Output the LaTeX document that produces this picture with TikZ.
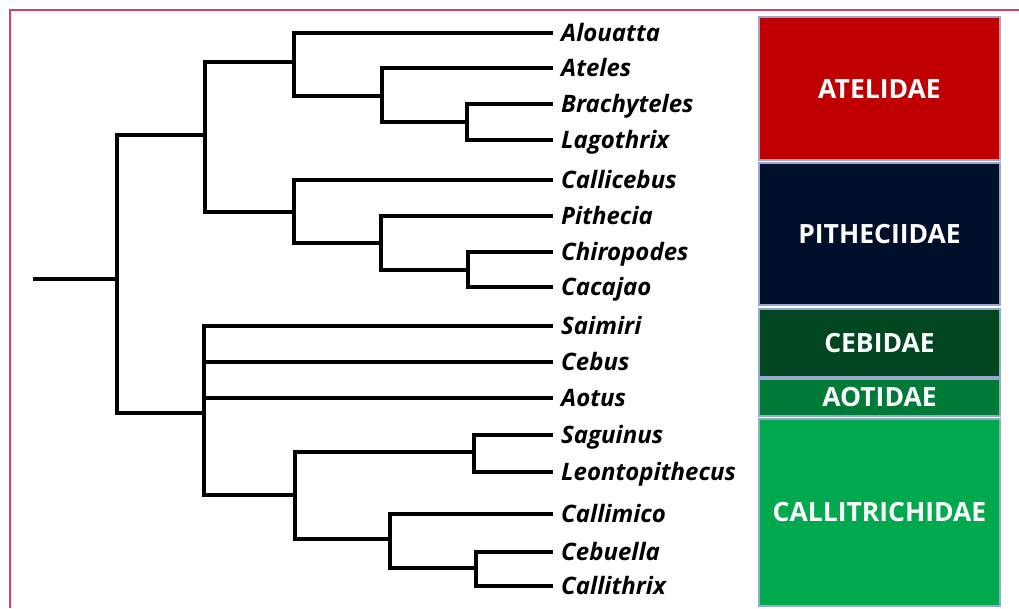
\documentclass[tikz,border=0pt]{standalone}
\usepackage{fontspec}
\setmainfont{Open Sans}
\begin{document}
\begin{tikzpicture}[x=1pt,y=-1pt,
  branch/.style={line width=3.8pt,line cap=rect,line join=miter},
  taxon/.style={anchor=base west,inner sep=0pt,yshift=-8.5pt,
    font=\fontsize{24}{27}\selectfont\bfseries\itshape},
  family/.style={draw=framecol,line width=1.4pt,minimum width=241pt,
    text=white,font=\fontsize{26.5}{30}\selectfont\bfseries,inner sep=0pt},
]
\definecolor{framecol}{RGB}{150,168,205}
\definecolor{bordercol}{RGB}{214,60,122}
\definecolor{ateli}{RGB}{192,0,0}
\definecolor{pithe}{RGB}{0,16,42}
\definecolor{cebi}{RGB}{0,70,32}
\definecolor{aoti}{RGB}{0,122,55}
\definecolor{calli}{RGB}{0,168,78}

\useasboundingbox (0,0) rectangle (1019,608);
\fill[white] (0,0) rectangle (1019,608);
\draw[bordercol,line width=2pt] (1019,10) -- (10,10) -- (10,608);

% internal nodes of the tree
\coordinate (r0) at (35,279);
\coordinate (r)  at (117,279);
\coordinate (A)  at (205,135);
\coordinate (at1) at (294,62);
\coordinate (at2) at (382,96);
\coordinate (at3) at (467,122);
\coordinate (pi1) at (294,212);
\coordinate (pi2) at (381,243);
\coordinate (pi3) at (468,270);
\coordinate (B)  at (204,413);
\coordinate (ca1) at (295,495);
\coordinate (ca2) at (474,452);
\coordinate (ca3) at (390,539);
\coordinate (ca4) at (476,568);

% tips of the tree
\foreach \name/\yy in {alo/33,ate/68,bra/104,lag/140,clb/180,pit/216,chi/252,cac/287,
  sai/326,ceb/362,aot/398,sag/435,leo/472,clm/514,cbl/552,clt/586}
  {\coordinate (\name) at (551,\yy);}

% genus labels
\node[taxon] (talo) at (561,33)  {Alouatta};
\node[taxon] (tate) at (561,68)  {Ateles};
\node[taxon] (tbra) at (561,104) {Brachyteles};
\node[taxon] (tlag) at (561,140) {Lagothrix};
\node[taxon] (tclb) at (561,180) {Callicebus};
\node[taxon] (tpit) at (561,216) {Pithecia};
\node[taxon] (tchi) at (561,252) {Chiropodes};
\node[taxon] (tcac) at (561,287) {Cacajao};
\node[taxon] (tsai) at (561,326) {Saimiri};
\node[taxon] (tceb) at (561,362) {Cebus};
\node[taxon] (taot) at (561,398) {Aotus};
\node[taxon] (tsag) at (561,435) {Saguinus};
\node[taxon] (tleo) at (561,472) {Leontopithecus};
\node[taxon] (tclm) at (561,514) {Callimico};
\node[taxon] (tcbl) at (561,552) {Cebuella};
\node[taxon] (tclt) at (561,586) {Callithrix};

% branches
\draw[branch] (r0) -- (r);
\draw[branch] (r) |- (A);
\draw[branch] (r) |- (B);
\draw[branch] (A) |- (at1);
\draw[branch] (A) |- (pi1);
\draw[branch] (at1) |- (alo);
\draw[branch] (at1) |- (at2);
\draw[branch] (at2) |- (ate);
\draw[branch] (at2) |- (at3);
\draw[branch] (at3) |- (bra);
\draw[branch] (at3) |- (lag);
\draw[branch] (pi1) |- (clb);
\draw[branch] (pi1) |- (pi2);
\draw[branch] (pi2) |- (pit);
\draw[branch] (pi2) |- (pi3);
\draw[branch] (pi3) |- (chi);
\draw[branch] (pi3) |- (cac);
\draw[branch] (B) |- (sai);
\draw[branch] (B) |- (ceb);
\draw[branch] (B) |- (aot);
\draw[branch] (B) |- (ca1);
\draw[branch] (ca1) |- (ca2);
\draw[branch] (ca1) |- (ca3);
\draw[branch] (ca2) |- (sag);
\draw[branch] (ca2) |- (leo);
\draw[branch] (ca3) |- (clm);
\draw[branch] (ca3) |- (ca4);
\draw[branch] (ca4) |- (cbl);
\draw[branch] (ca4) |- (clt);

% family boxes
\node[family,fill=ateli,minimum height=143pt] (fat) at (879.5,88.5) {ATELIDAE};
\node[family,fill=pithe,minimum height=142pt] (fpi) at (879.5,234) {PITHECIIDAE};
\node[family,fill=cebi,minimum height=68pt]  (fce) at (879.5,343) {CEBIDAE};
\node[family,fill=aoti,minimum height=37pt]  (fao) at (879.5,397.5) {AOTIDAE};
\node[family,fill=calli,minimum height=187pt] (fca) at (879.5,512.5) {CALLITRICHIDAE};
\end{tikzpicture}
\end{document}
